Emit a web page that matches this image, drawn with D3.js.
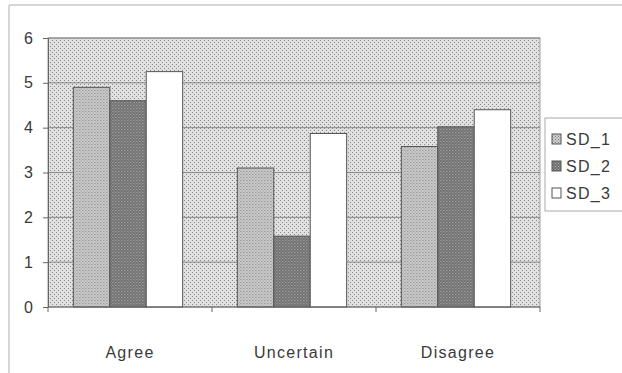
<!DOCTYPE html>
<html>
<head>
<meta charset="utf-8">
<script src="https://cdn.jsdelivr.net/npm/d3@7"></script>
<style>
  html, body { margin: 0; padding: 0; background: #fff; }
  svg { display: block; }
  text { font-family: "Liberation Sans", Arial, sans-serif; fill: #3a3a3a; }
</style>
</head>
<body>
<svg id="chart" width="622" height="373"></svg>
<script>
// Survey responses by category, one value per series
const categories = ["Agree", "Uncertain", "Disagree"];
const seriesNames = ["SD_1", "SD_2", "SD_3"];
const sd1 = [4.9, 3.1, 3.58];
const sd2 = [4.6, 1.58, 4.02];
const sd3 = [5.25, 3.87, 4.4];
const yTicks = [0, 1, 2, 3, 4, 5, 6];

const seriesValues = [sd1, sd2, sd3];

const svg = d3.select("#chart");
const plot = { left: 48, right: 540, top: 38, bottom: 307 };

// Fill patterns: dotted plot background, light dotted, dark dotted, plain white
const defs = svg.append("defs");
function dotPattern(id, base, dot, step) {
  const p = defs.append("pattern")
    .attr("id", id).attr("patternUnits", "userSpaceOnUse")
    .attr("width", step).attr("height", step);
  p.append("rect").attr("width", step).attr("height", step).attr("fill", base);
  p.append("rect").attr("width", 1).attr("height", 1).attr("fill", dot);
  p.append("rect").attr("x", step / 2).attr("y", step / 2).attr("width", 1).attr("height", 1).attr("fill", dot);
}
dotPattern("bgPat", "#e0e0e0", "#8c8c8c", 4);
dotPattern("sd1Pat", "#d0d0d0", "#7a7a7a", 3);
dotPattern("sd2Pat", "#6e6e6e", "#b4b4b4", 3);
const fills = ["url(#sd1Pat)", "url(#sd2Pat)", "#ffffff"];

// Outer chart frame
svg.append("line").attr("x1", 9).attr("x2", 622).attr("y1", 5).attr("y2", 5)
  .attr("stroke", "#c8c8c8").attr("stroke-width", 1.5);
svg.append("line").attr("x1", 9).attr("x2", 9).attr("y1", 5).attr("y2", 373)
  .attr("stroke", "#c8c8c8").attr("stroke-width", 1.5);

const x0 = d3.scaleBand().domain(categories)
  .range([plot.left, plot.right]).paddingInner(0).paddingOuter(0);
const barW = x0.bandwidth() / 4.5;
const x1 = d3.scaleBand().domain(seriesNames)
  .range([0, barW * 3]);
const y = d3.scaleLinear().domain([0, 6]).range([plot.bottom, plot.top]);

// Plot area
svg.append("rect")
  .attr("x", plot.left).attr("y", plot.top)
  .attr("width", plot.right - plot.left).attr("height", plot.bottom - plot.top)
  .attr("fill", "url(#bgPat)").attr("stroke", "#9a9a9a").attr("stroke-width", 1);

// Horizontal gridlines
svg.append("g").selectAll("line").data(yTicks.filter(d => d > 0)).join("line")
  .attr("x1", plot.left).attr("x2", plot.right)
  .attr("y1", d => y(d)).attr("y2", d => y(d))
  .attr("stroke", "#8a8a8a").attr("stroke-width", 1);

// Bars
const groups = svg.append("g").selectAll("g").data(categories).join("g")
  .attr("transform", d => `translate(${x0(d) + (x0.bandwidth() - barW * 3) / 2 - 2},0)`);
groups.selectAll("rect")
  .data((c, i) => seriesNames.map((s, j) => ({ s, j, v: seriesValues[j][i] })))
  .join("rect")
  .attr("x", d => x1(d.s)).attr("width", x1.bandwidth())
  .attr("y", d => y(d.v)).attr("height", d => y(0) - y(d.v))
  .attr("fill", d => fills[d.j])
  .attr("stroke", "#555").attr("stroke-width", 1);

// Y axis
const yAxis = svg.append("g").attr("transform", `translate(${plot.left},0)`)
  .call(d3.axisLeft(y).tickValues(yTicks).tickSize(5).tickPadding(9).tickFormat(d3.format("d")));
yAxis.select(".domain").attr("stroke", "#666");
yAxis.selectAll(".tick line").attr("stroke", "#666");
yAxis.selectAll("text").attr("font-size", 16).attr("fill", "#444")
  .attr("font-family", "\"Liberation Sans\", Arial, sans-serif")
  .attr("letter-spacing", 1);

// X axis with ticks at category boundaries
const xAxis = svg.append("g").attr("transform", `translate(0,${plot.bottom})`);
xAxis.append("line").attr("x1", plot.left).attr("x2", plot.right)
  .attr("stroke", "#666");
const bounds = categories.map(c => x0(c)).concat([plot.right]);
xAxis.selectAll("line.tk").data(bounds).join("line").attr("class", "tk")
  .attr("x1", d => d).attr("x2", d => d).attr("y1", 0).attr("y2", 5)
  .attr("stroke", "#666");
xAxis.selectAll("text").data(categories).join("text")
  .attr("x", d => x0(d) + x0.bandwidth() / 2).attr("y", 51)
  .attr("text-anchor", "middle").attr("font-size", 16)
  .attr("letter-spacing", 1.3)
  .text(d => d);

// Legend
const legend = svg.append("g").attr("transform", "translate(545,118)");
legend.append("rect").attr("width", 90).attr("height", 93)
  .attr("fill", "#fff").attr("stroke", "#aaa");
const li = legend.selectAll("g").data(seriesNames).join("g")
  .attr("transform", (d, i) => `translate(7,${21 + i * 27})`);
li.append("rect").attr("x", 0).attr("y", -5).attr("width", 9).attr("height", 10)
  .attr("fill", (d, i) => fills[i]).attr("stroke", "#555");
li.append("text").attr("x", 14).attr("y", 6).attr("font-size", 16)
  .attr("letter-spacing", 1.3).text(d => d);
</script>
</body>
</html>
